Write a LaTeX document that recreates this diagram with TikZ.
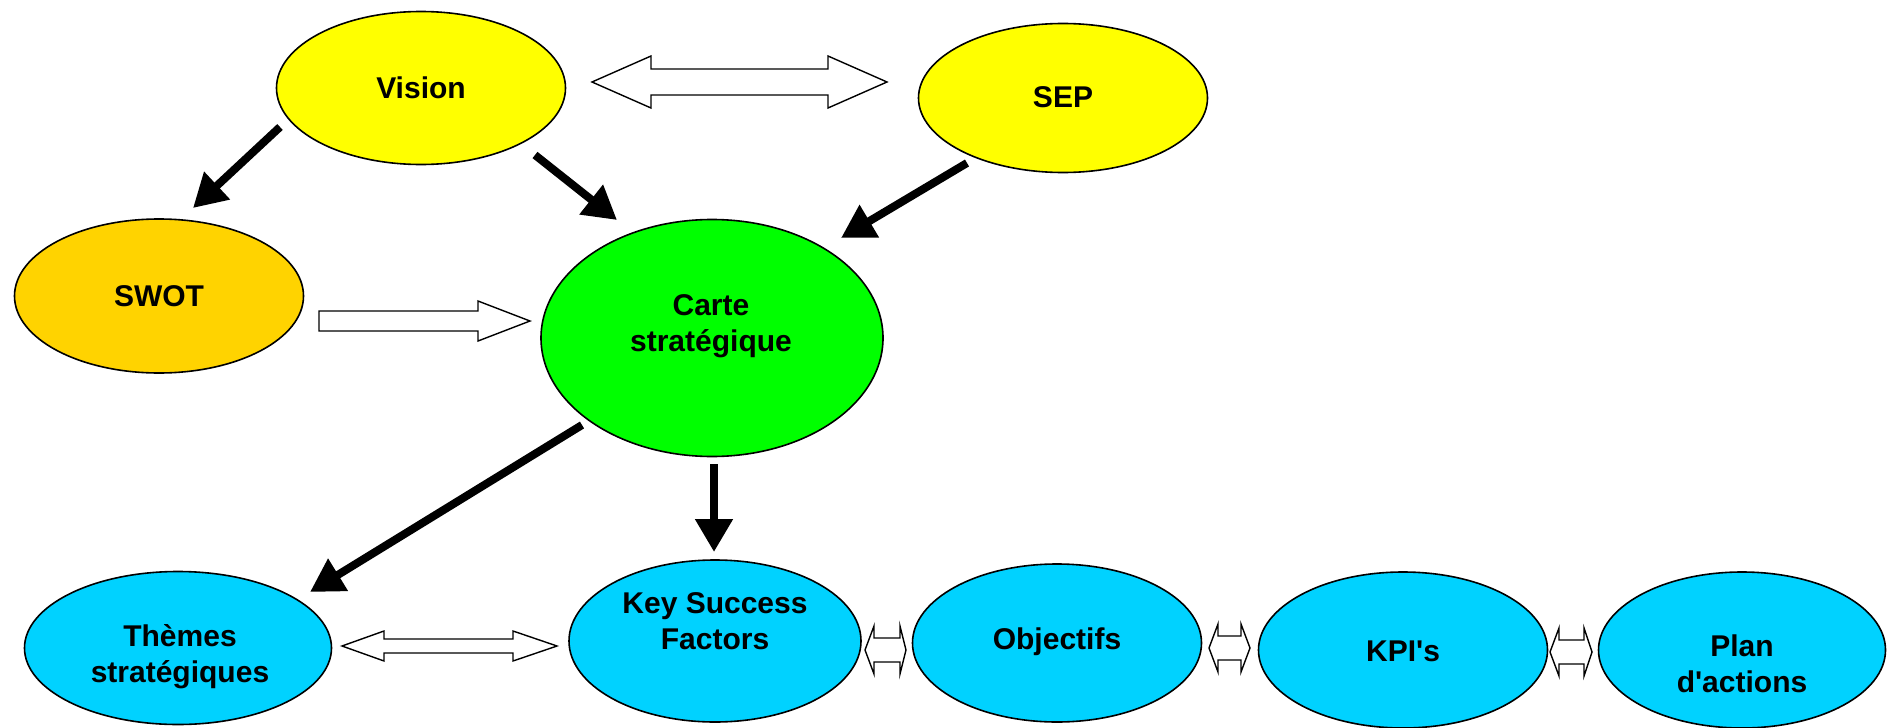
\documentclass[tikz,border=0pt]{standalone}
\usepackage{fontspec}
\setmainfont{Liberation Sans}[Ligatures=TeXOff]
\usetikzlibrary{shapes.geometric,arrows.meta}

\definecolor{visionyellow}{HTML}{FFFF00}
\definecolor{swotgold}{HTML}{FFD300}
\definecolor{cartegreen}{HTML}{00FF00}
\definecolor{flowcyan}{HTML}{00D2FF}

% Outlined double-headed block arrow:
% #1 left tip x, #2 left head base x, #3 right head base x, #4 right tip x,
% #5 axis y, #6 half head height, #7 half shaft height
\newcommand\twoheaded[7]{%
  \draw[hollow] (#1,#5) -- (#2,#5-#6) -- (#2,#5-#7) -- (#3,#5-#7) -- (#3,#5-#6)
    -- (#4,#5) -- (#3,#5+#6) -- (#3,#5+#7) -- (#2,#5+#7) -- (#2,#5+#6) -- cycle;}

\begin{document}
\begin{tikzpicture}[x=1pt,y=-1pt,
  bubble/.style={ellipse, draw=black, line width=1.6pt, inner sep=0pt},
  lbl/.style={font=\bfseries\fontsize{30}{36}\selectfont, align=center, inner sep=0pt},
  push/.style={line width=8pt, -{Triangle[length=33pt,width=36pt]}},
  hollow/.style={draw=black, fill=white, line width=1.4pt, line join=miter}
]
\useasboundingbox (0,0) rectangle (1888,728);

% ellipses
\node[bubble, fill=visionyellow, minimum width=289pt, minimum height=153pt] (vision) at (421,88) {};
\node[bubble, fill=visionyellow, minimum width=289pt, minimum height=149pt] (sep) at (1063,98) {};
\node[bubble, fill=swotgold, minimum width=289pt, minimum height=154pt] (swot) at (159,296) {};
\node[bubble, fill=cartegreen, minimum width=342pt, minimum height=237pt] (carte) at (712,338) {};
\node[bubble, fill=flowcyan, minimum width=307pt, minimum height=153pt] (themes) at (178,648) {};
\node[bubble, fill=flowcyan, minimum width=292pt, minimum height=162pt] (ksf) at (715,641) {};
\node[bubble, fill=flowcyan, minimum width=289pt, minimum height=158pt] (obj) at (1057,643) {};
\node[bubble, fill=flowcyan, minimum width=289pt, minimum height=156pt] (kpi) at (1403,650) {};
\node[bubble, fill=flowcyan, minimum width=287pt, minimum height=156pt] (plan) at (1742,650) {};

% labels
\node[lbl] at (421,88) {Vision};
\node[lbl] at (1063,97) {SEP};
\node[lbl] at (159,296) {SWOT};
\node[lbl] at (711,326) {Carte\\strat\'egique};
\node[lbl] at (715,621) {Key Success\\Factors};
\node[lbl] at (180,657) {Th\`emes\\strat\'egiques};
\node[lbl] at (1057,642) {Objectifs};
\node[lbl] at (1403,651) {KPI's};
\node[lbl] at (1742,664) {Plan\\d'actions};

% arrow end points
\coordinate (v2sA) at (280,127);  \coordinate (v2sB) at (193,208);
\coordinate (v2cA) at (535,155);  \coordinate (v2cB) at (617,220);
\coordinate (s2cA) at (967,163);  \coordinate (s2cB) at (841,238);
\coordinate (c2tA) at (582,425);  \coordinate (c2tB) at (310,592);
\coordinate (c2kA) at (714,464);  \coordinate (c2kB) at (714,552);

% solid arrows
\draw[push] (v2sA) -- (v2sB);
\draw[push] (v2cA) -- (v2cB);
\draw[push] (s2cA) -- (s2cB);
\draw[push] (c2tA) -- (c2tB);
\draw[push] (c2kA) -- (c2kB);

% outlined block arrows
\twoheaded{592}{651}{828}{887}{82}{26}{13}
\draw[hollow] (319,311) -- (478,311) -- (478,301) -- (530,321) -- (478,341)
  -- (478,331) -- (319,331) -- cycle;
\twoheaded{342}{384}{513}{557}{646}{15}{7}
\twoheaded{865}{874}{900}{906}{650}{24}{12}
\twoheaded{1209}{1218}{1241}{1250}{648}{24}{12}
\twoheaded{1550}{1559}{1584}{1592}{652}{24}{12}
\end{tikzpicture}
\end{document}
